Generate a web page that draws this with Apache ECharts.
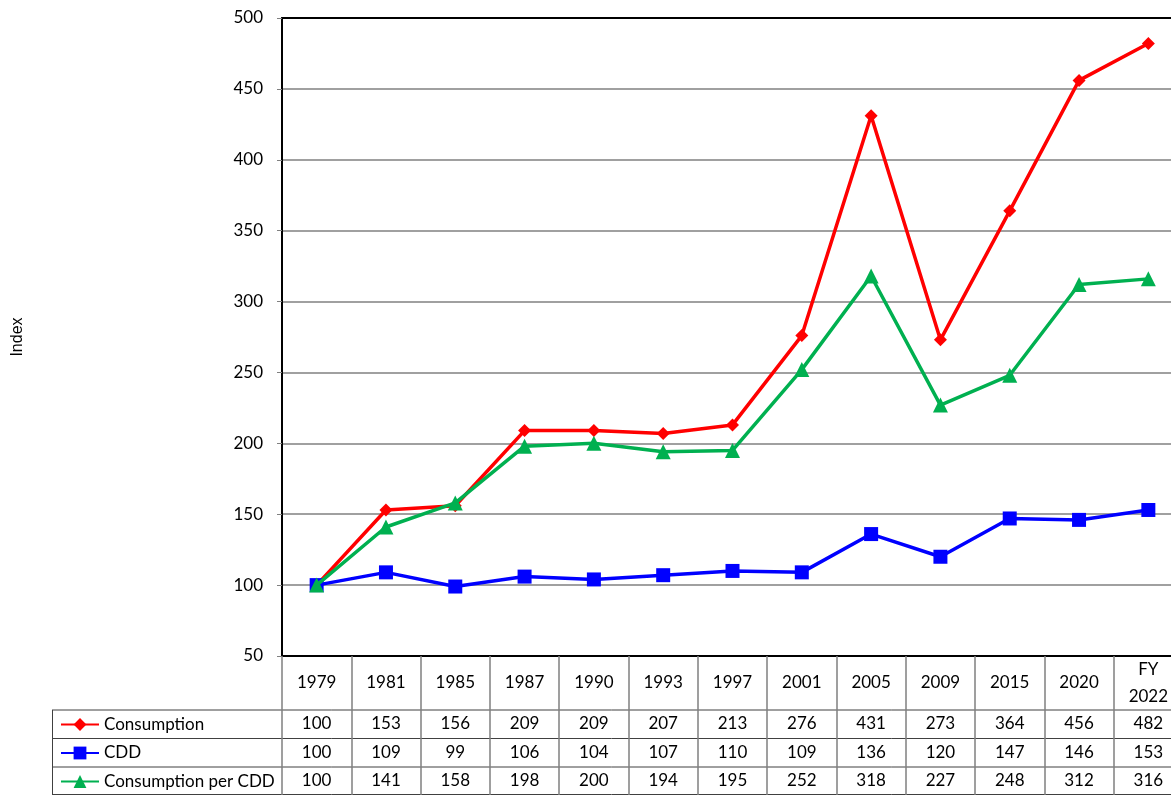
<!DOCTYPE html>
<html>
<head>
<meta charset="utf-8">
<script src="https://cdn.jsdelivr.net/npm/echarts@6/dist/echarts.min.js"></script>
<style>
html,body{margin:0;padding:0;background:#fff;}
#main{width:1171px;height:795px;}
</style>
</head>
<body>
<div id="main"></div>
<script>
const categories = ['1979','1981','1985','1987','1990','1993','1997','2001','2005','2009','2015','2020','FY\n2022'];
const consumption = [100,153,156,209,209,207,213,276,431,273,364,456,482];
const cdd = [100,109,99,106,104,107,110,109,136,120,147,146,153];
const consumptionPerCdd = [100,141,158,198,200,194,195,252,318,227,248,312,316];
const seriesNames = ['Consumption','CDD','Consumption per CDD'];
const yTicks = {min:50, max:500, interval:50};

const FONT = 'Lato';
const FS = 17;
const rowValues = [consumption, cdd, consumptionPerCdd];
const rowOffsets = [54, 82.5, 111];
const rowCenters = [724, 752.5, 781];

const chart = echarts.init(document.getElementById('main'));

const tableAxes = rowValues.map((vals, r) => ({
  type: 'category',
  data: categories,
  gridIndex: 0,
  position: 'bottom',
  offset: rowOffsets[r],
  boundaryGap: true,
  axisLine: {show: false},
  axisTick: {show: false},
  splitLine: {show: false},
  axisLabel: {
    interval: 0,
    margin: 14,
    verticalAlign: 'middle',
    color: '#000',
    fontFamily: FONT,
    fontSize: FS,
    formatter: (v, i) => String(vals[i])
  }
}));

const legends = seriesNames.map((n, r) => ({
  data: [n],
  left: 60,
  top: rowCenters[r] - 8,
  padding: 0,
  itemWidth: 38,
  itemHeight: 16,
  itemGap: 5,
  textStyle: {color: '#000', fontFamily: FONT, fontSize: FS, lineHeight: 16}
}));

const hLines = [710, 738.5, 767, 794.5].map(y => ({
  type: 'line',
  shape: {x1: 52, y1: y, x2: 1171, y2: y},
  style: {stroke: '#404040', lineWidth: 1}
}));
hLines.push({
  type: 'line',
  shape: {x1: 52.5, y1: 710, x2: 52.5, y2: 795},
  style: {stroke: '#404040', lineWidth: 1}
});

const colors = ['#FF0000', '#0000FF', '#00B050'];
const symbols = ['diamond', 'rect', 'triangle'];
const sizes = [13, 14, 15];

chart.setOption({
  animation: false,
  backgroundColor: '#fff',
  textStyle: {fontFamily: FONT},
  grid: {left: 282, top: 18, width: 901, height: 638, containLabel: false, outerBoundsMode: 'none'},
  legend: legends,
  xAxis: [
    {
      type: 'category',
      data: categories,
      position: 'bottom',
      boundaryGap: true,
      axisLine: {show: true, lineStyle: {color: '#000', width: 2}},
      axisTick: {show: true, length: 139, alignWithLabel: false, lineStyle: {color: '#808080', width: 1.5}},
      splitLine: {show: false},
      axisLabel: {
        interval: 0,
        margin: 27,
        verticalAlign: 'middle',
        color: '#000',
        fontFamily: FONT,
        fontSize: FS,
        lineHeight: 27
      }
    },
    {
      type: 'category',
      data: categories,
      position: 'top',
      axisLine: {show: true, lineStyle: {color: '#000', width: 2}},
      axisTick: {show: false},
      axisLabel: {show: false},
      splitLine: {show: false}
    }
  ].concat(tableAxes),
  yAxis: {
    type: 'value',
    min: yTicks.min,
    max: yTicks.max,
    interval: yTicks.interval,
    name: 'Index',
    nameLocation: 'middle',
    nameGap: 256,
    nameRotate: 90,
    nameTextStyle: {color: '#000', fontFamily: 'Liberation Sans', fontSize: 16},
    axisLine: {show: true, lineStyle: {color: '#000', width: 2}},
    axisTick: {show: true, length: 5, lineStyle: {color: '#808080'}},
    axisLabel: {margin: 19, color: '#000', fontFamily: FONT, fontSize: FS},
    splitLine: {show: true, lineStyle: {color: '#808080', width: 1.5}}
  },
  series: rowValues.map((vals, r) => ({
    name: seriesNames[r],
    type: 'line',
    data: vals,
    xAxisIndex: 0,
    yAxisIndex: 0,
    symbol: symbols[r],
    symbolSize: sizes[r],
    showSymbol: true,
    color: colors[r],
    lineStyle: {color: colors[r], width: 3.5},
    itemStyle: {color: colors[r]},
    z: 2 + r
  })),
  graphic: hLines
});
</script>
</body>
</html>
